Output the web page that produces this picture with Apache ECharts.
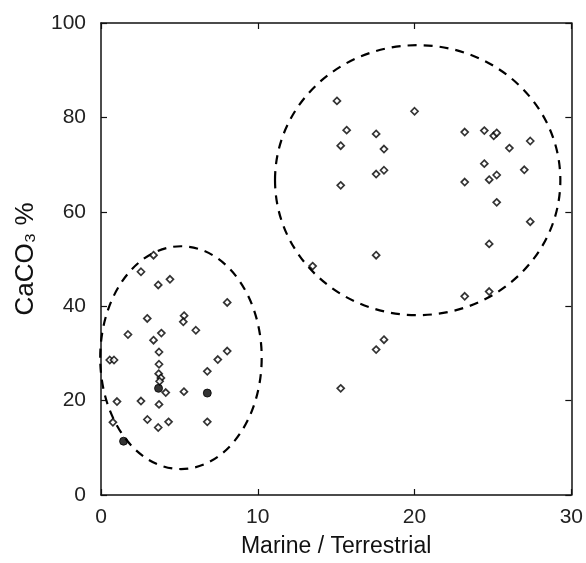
<!DOCTYPE html>
<html>
<head>
<meta charset="utf-8">
<script src="https://cdn.jsdelivr.net/npm/echarts@6/dist/echarts.min.js"></script>
<style>
  html, body { margin: 0; padding: 0; background: #fff; }
  #chart { width: 586px; height: 563px; }
</style>
</head>
<body>
<div id="chart"></div>
<script>
// open diamonds [marine/terrestrial, CaCO3 %]
const openPoints = [
  // upper group
  [15.05, 83.5], [20.0, 81.3], [15.67, 77.3], [17.55, 76.5], [15.29, 74.0],
  [18.05, 73.3], [17.55, 68.0], [18.05, 68.8], [15.29, 65.6], [17.55, 50.8],
  [13.5, 48.5], [23.2, 76.9], [24.45, 77.2], [25.05, 76.1], [25.24, 76.7],
  [26.05, 73.5], [27.38, 75.0], [24.45, 70.2], [23.2, 66.3], [24.76, 66.8],
  [25.24, 67.8], [27.0, 68.9], [25.24, 62.0], [27.38, 57.9], [24.76, 53.2],
  [24.76, 43.1], [23.2, 42.1],
  // between groups
  [17.55, 30.8], [18.05, 32.9], [15.29, 22.6],
  // lower group
  [3.35, 50.8], [2.55, 47.3], [3.65, 44.5], [4.4, 45.7], [8.05, 40.8],
  [2.95, 37.4], [5.3, 38.0], [5.25, 36.7], [1.72, 34.0], [3.85, 34.3],
  [3.35, 32.8], [6.05, 34.9], [3.7, 30.3], [8.05, 30.5], [7.45, 28.7],
  [0.56, 28.6], [0.83, 28.6], [3.7, 27.7], [6.78, 26.2], [3.68, 25.7],
  [3.82, 24.8], [3.74, 24.1], [4.13, 21.7], [5.29, 21.9], [1.02, 19.8],
  [2.55, 19.9], [3.7, 19.2], [2.96, 16.0], [4.31, 15.5], [6.78, 15.5],
  [0.76, 15.4], [3.65, 14.3]
];
// filled markers
const filledPoints = [[3.67, 22.6], [6.78, 21.6], [1.44, 11.4]];
// dashed ellipses [cx, cy, rx, ry]
const ellipses = [[5.1, 29.1, 5.15, 23.6], [20.2, 66.7, 9.1, 28.6]];

const xTicks = { min: 0, max: 30, interval: 10 };
const yTicks = { min: 0, max: 100, interval: 20 };

const font = 'Liberation Sans';
const chart = echarts.init(document.getElementById('chart'));

const axisLine = { show: true, onZero: false, lineStyle: { color: '#111', width: 1.5 } };
const axisTick = { show: true, inside: true, length: 6, lineStyle: { color: '#111', width: 1.2 } };

chart.setOption({
  animation: false,
  backgroundColor: '#fff',
  grid: { left: 101, right: 14, top: 23, bottom: 65 },
  xAxis: [
    {
      type: 'value', ...xTicks,
      name: 'Marine / Terrestrial', nameLocation: 'middle', nameGap: 40,
      nameTextStyle: { fontFamily: font, fontSize: 23, color: '#111' },
      axisLine, axisTick, splitLine: { show: false },
      axisLabel: { fontFamily: font, fontSize: 21, color: '#222', margin: 12 }
    },
    {
      type: 'value', position: 'top', ...xTicks,
      axisLine, axisTick, splitLine: { show: false }, axisLabel: { show: false }
    }
  ],
  yAxis: [
    {
      type: 'value', ...yTicks,
      name: 'CaCO\u2083 %', nameLocation: 'middle', nameGap: 62,
      nameTextStyle: { fontFamily: font, fontSize: 26, color: '#111' },
      axisLine, axisTick, splitLine: { show: false },
      axisLabel: { fontFamily: font, fontSize: 21, color: '#222', margin: 15 }
    },
    {
      type: 'value', position: 'right', ...yTicks,
      axisLine, axisTick, splitLine: { show: false }, axisLabel: { show: false }
    }
  ],
  series: [
    {
      type: 'custom',
      data: ellipses,
      silent: true,
      renderItem: (params, api) => {
        const c = api.coord([api.value(0), api.value(1)]);
        const s = api.size([api.value(2), api.value(3)]);
        return {
          type: 'ellipse',
          shape: { cx: c[0], cy: c[1], rx: s[0], ry: s[1] },
          style: { fill: 'none', stroke: '#000', lineWidth: 2.2, lineDash: [9, 7] }
        };
      }
    },
    {
      type: 'scatter',
      data: openPoints,
      symbol: 'diamond',
      symbolSize: 7,
      itemStyle: { color: '#fff', borderColor: '#000', borderWidth: 1.7 }
    },
    {
      type: 'scatter',
      data: filledPoints,
      symbol: 'circle',
      symbolSize: 8,
      itemStyle: { color: '#000', borderColor: '#000', borderWidth: 1 }
    }
  ]
});
</script>
</body>
</html>
